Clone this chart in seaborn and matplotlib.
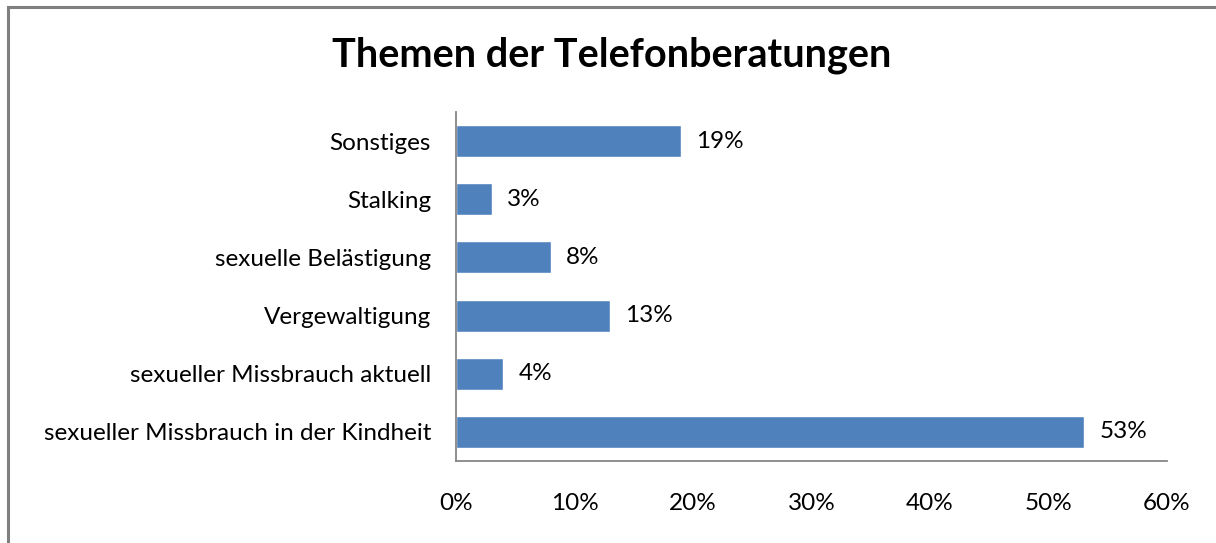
import matplotlib
matplotlib.use("Agg")
import matplotlib.pyplot as plt
import matplotlib.patches as mpatches
from matplotlib.ticker import FuncFormatter, MultipleLocator
import pandas as pd
import seaborn as sns

# data, top to bottom as shown
categories = [
    "Sonstiges",
    "Stalking",
    "sexuelle Belästigung",
    "Vergewaltigung",
    "sexueller Missbrauch aktuell",
    "sexueller Missbrauch in der Kindheit",
]
shares = [19, 3, 8, 13, 4, 53]
title = "Themen der Telefonberatungen"

BAR_COLOR = "#4F81BD"
AXIS_COLOR = "#868686"
LABEL_SIZE = 17.5

sns.set_theme(style="white")
plt.rcParams["font.family"] = ["Lato", "DejaVu Sans"]

df = pd.DataFrame({"Thema": categories, "Anteil": shares})

fig = plt.figure(figsize=(12.16, 5.43), dpi=100)
ax = fig.add_axes([456 / 1216, 82 / 543, 711 / 1216, 349 / 543])

sns.barplot(data=df, x="Anteil", y="Thema", orient="h", color=BAR_COLOR,
            saturation=1, width=0.55, ax=ax)

ax.set_xlim(0, 60)
ax.xaxis.set_major_locator(MultipleLocator(10))
ax.xaxis.set_major_formatter(FuncFormatter(lambda v, _: f"{v:.0f}%"))
ax.set_xlabel("")
ax.set_ylabel("")
ax.tick_params(axis="x", length=0, pad=23, labelsize=LABEL_SIZE, colors="black")
ax.tick_params(axis="y", length=0, pad=18, labelsize=LABEL_SIZE, colors="black")

for side in ["top", "right"]:
    ax.spines[side].set_visible(False)
for side in ["left", "bottom"]:
    ax.spines[side].set_color(AXIS_COLOR)
    ax.spines[side].set_linewidth(1.3)

for bar, val in zip(ax.patches, shares):
    ax.annotate(f"{val}%", (bar.get_width(), bar.get_y() + bar.get_height() / 2),
                xytext=(11, 0), textcoords="offset points", ha="left", va="center",
                fontsize=LABEL_SIZE, color="black")

fig.text(0.503, 0.899, title, ha="center", va="center", fontsize=28.5,
         fontweight="bold", color="black")

# chart frame: only top and left edges are in view
frame = mpatches.Rectangle((8 / 1216, -0.1), 1.2, 0.1 + 536 / 543,
                           transform=fig.transFigure, fill=False,
                           edgecolor="#7f7f7f", linewidth=2.2)
fig.patches.append(frame)

fig.savefig("out.png", dpi=100, facecolor="white")
